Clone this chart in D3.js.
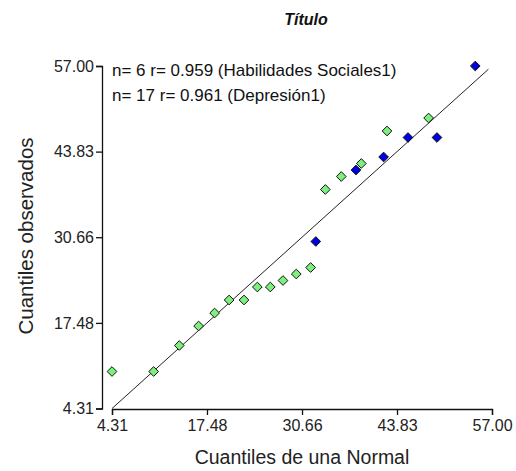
<!DOCTYPE html>
<html><head><meta charset="utf-8">
<script src="https://cdn.jsdelivr.net/npm/d3@7"></script>
<style>body{margin:0;background:#fff}svg{display:block}text{font-family:"Liberation Sans",Arial,sans-serif}</style>
</head><body>
<script>
const title = "Título";
const xTitle = "Cuantiles de una Normal";
const yTitle = "Cuantiles observados";
const tickValues = [4.31, 17.48, 30.66, 43.83, 57.00];
const legendLines = ["n= 6 r= 0.959 (Habilidades Sociales1)", "n= 17 r= 0.961 (Depresión1)"];
// Depresión1 (green)
const depTheo = [4.31, 10.08, 13.64, 16.32, 18.54, 20.55, 22.61, 24.46, 26.26, 28.02, 29.86, 31.85, 33.89, 36.10, 38.88, 42.44, 48.21];
const depObs  = [10, 10, 14, 17, 19, 21, 21, 23, 23, 24, 25, 26, 38, 40, 42, 47, 49];
// Habilidades Sociales1 (blue)
const habTheo = [32.57, 38.14, 41.97, 45.35, 49.37, 54.68];
const habObs  = [30, 41, 43, 46, 46, 57];
const refLine = [4.31, 56.5];

const W = 516, H = 471;
const svg = d3.select("body").append("svg").attr("width", W).attr("height", H);
const x = d3.scaleLinear().domain([4.31, 57]).range([112, 492]);
const y = d3.scaleLinear().domain([4.31, 57]).range([408.5, 66]);

const fmt = d3.format(".2f");
// x axis
svg.append("g").attr("transform", "translate(0,409)")
  .call(d3.axisBottom(x).tickValues(tickValues).tickFormat(fmt).tickSizeOuter(0).tickSize(6).tickPadding(5))
  .call(g => { g.select(".domain").attr("stroke", "#111").attr("stroke-width", 1.3);
    g.selectAll("line").attr("stroke", "#111").attr("stroke-width", 1.3);
    g.selectAll("text").attr("font-size", 16).attr("fill", "#222"); });
// y axis
svg.append("g").attr("transform", "translate(102,0)")
  .call(d3.axisLeft(y).tickValues(tickValues).tickFormat(fmt).tickSizeOuter(0).tickSize(6).tickPadding(2))
  .call(g => { g.select(".domain").attr("stroke", "#111").attr("stroke-width", 1.3);
    g.selectAll("line").attr("stroke", "#111").attr("stroke-width", 1.3);
    g.selectAll("text").attr("font-size", 16).attr("fill", "#222"); });

// reference line
svg.append("line")
  .attr("x1", x(refLine[0])).attr("y1", y(refLine[0]))
  .attr("x2", x(refLine[1])).attr("y2", y(refLine[1]))
  .attr("stroke", "#222").attr("stroke-width", 1);

const diamond = d3.symbol().type(d3.symbolDiamond2).size(60);
function drawPts(tx, ty, fill) {
  svg.append("g").selectAll("path").data(tx.map((v, i) => [v, ty[i]])).join("path")
    .attr("d", diamond)
    .attr("transform", d => `translate(${x(d[0])},${y(d[1])})`)
    .attr("fill", fill).attr("stroke", "#111").attr("stroke-width", 1);
}
drawPts(depTheo, depObs, "#7cf07c");
drawPts(habTheo, habObs, "#0000e0");

// legend text
legendLines.forEach((t, i) => {
  svg.append("text").attr("x", 112).attr("y", 76 + i * 25).attr("font-size", 17).attr("fill", "#111").text(t);
});

// titles
svg.append("text").attr("x", 306).attr("y", 25).attr("text-anchor", "middle")
  .attr("font-size", 16).attr("font-weight", "bold").attr("font-style", "italic").attr("fill", "#111").text(title);
svg.append("text").attr("x", 302).attr("y", 464).attr("text-anchor", "middle")
  .attr("font-size", 19.5).attr("fill", "#222").text(xTitle);
svg.append("text").attr("transform", "translate(33,236) rotate(-90)").attr("text-anchor", "middle")
  .attr("font-size", 20.5).attr("fill", "#222").text(yTitle);
</script>
</body></html>
